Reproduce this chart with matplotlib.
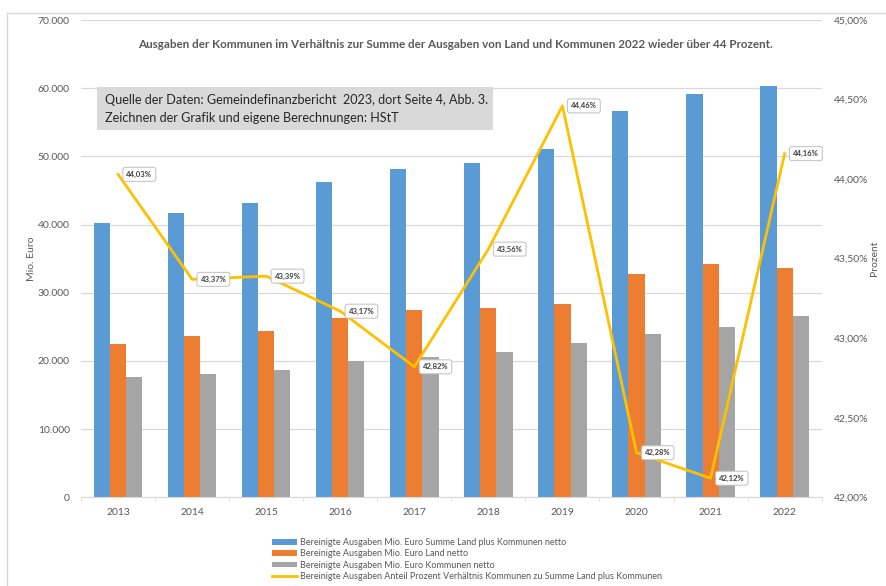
import matplotlib
matplotlib.use("Agg")
import matplotlib.pyplot as plt
from matplotlib.lines import Line2D
from matplotlib.patches import Rectangle
from matplotlib.ticker import FuncFormatter, FixedLocator
import numpy as np

# ── Data (Mio. Euro / Prozent) ────────────────────────────────────────────────
years = ["2013", "2014", "2015", "2016", "2017", "2018", "2019", "2020", "2021", "2022"]
summe = [40180, 41730, 43200, 46280, 48090, 49060, 51030, 56690, 59180, 60310]
land = [22480, 23650, 24430, 26290, 27510, 27710, 28390, 32740, 34210, 33670]
kommunen = [17680, 18120, 18710, 19990, 20620, 21350, 22630, 23940, 24930, 26630]
anteil = [44.03, 43.37, 43.39, 43.17, 42.82, 43.56, 44.46, 42.28, 42.12, 44.16]

labels = [
    "Bereinigte Ausgaben Mio. Euro Summe Land plus Kommunen netto",
    "Bereinigte Ausgaben Mio. Euro Land netto",
    "Bereinigte Ausgaben Mio. Euro Kommunen netto",
    "Bereinigte Ausgaben Anteil Prozent Verhältnis Kommunen zu Summe Land plus Kommunen",
]
title = ("Ausgaben der Kommunen im Verhältnis zur Summe der Ausgaben von Land "
         "und Kommunen 2022 wieder über 44 Prozent.")
source = ("Quelle der Daten: Gemeindefinanzbericht  2023, dort Seite 4, Abb. 3.\n"
          "Zeichnen der Grafik und eigene Berechnungen: HStT")

# ── Colours ───────────────────────────────────────────────────────────────────
C_BLUE = "#5b9bd5"
C_ORANGE = "#ed7d31"
C_GREY = "#a5a5a5"
C_YELLOW = "#ffc000"
C_TEXT = "#595959"
C_GRID = "#d9d9d9"

plt.rcParams["font.family"] = ["Lato", "DejaVu Sans"]

fig = plt.figure(figsize=(8.86, 5.86), dpi=100)
ax = fig.add_axes([81 / 886, 1 - 497.3 / 586, 740.7 / 886, 477.3 / 586])
ax2 = ax.twinx()

x = np.arange(len(years))
w = 0.218
b1 = ax.bar(x - w, summe, w, color=C_BLUE, label=labels[0], zorder=2)
b2 = ax.bar(x, land, w, color=C_ORANGE, label=labels[1], zorder=2)
b3 = ax.bar(x + w, kommunen, w, color=C_GREY, label=labels[2], zorder=2)

ax.set_xlim(-0.5, len(years) - 0.5)
ax.set_ylim(0, 70000)
ax.set_yticks(np.arange(0, 70001, 10000))
ax.yaxis.set_major_formatter(FuncFormatter(lambda v, p: f"{int(v):,}".replace(",", ".")))
ax.grid(axis="y", color=C_GRID, lw=0.9, zorder=0)
ax.set_axisbelow(True)
ax.set_xticks(x)
ax.set_xticklabels(years)
ax.xaxis.set_minor_locator(FixedLocator(np.arange(-0.5, len(years), 1.0)))
ax.tick_params(axis="x", which="major", length=0, pad=8, labelsize=7.5, labelcolor=C_TEXT)
ax.tick_params(axis="x", which="minor", length=3, color=C_GRID)
ax.tick_params(axis="y", length=0, pad=8, labelsize=7.5, labelcolor=C_TEXT)
for side in ["left", "right", "top"]:
    ax.spines[side].set_visible(False)
    ax2.spines[side].set_visible(False)
ax.spines["bottom"].set_color(C_GRID)
ax2.spines["bottom"].set_visible(False)
ax.set_ylabel("Mio. Euro", fontsize=7.5, color=C_TEXT, labelpad=1)

# percentage line
ln, = ax2.plot(x, anteil, color=C_YELLOW, lw=2.0, label=labels[3], zorder=3)
ax2.set_ylim(42, 45)
ax2.set_yticks(np.arange(42, 45.01, 0.5))
ax2.yaxis.set_major_formatter(FuncFormatter(lambda v, p: f"{v:.2f}%".replace(".", ",")))
ax2.tick_params(axis="y", length=0, pad=9, labelsize=7.5, labelcolor=C_TEXT)
ax2.set_ylabel("Prozent", fontsize=7.5, color=C_TEXT, labelpad=1)

for xi, v in zip(x, anteil):
    ax2.annotate(f"{v:.2f}%".replace(".", ","), (xi, v), xytext=(6, 0),
                 textcoords="offset points", ha="left", va="center",
                 fontsize=5.5, fontweight="bold", color="#404040", zorder=5,
                 bbox=dict(boxstyle="round,pad=0.45,rounding_size=0.3",
                           fc="white", ec="#bfbfbf", lw=0.7))

# title and source box inside the plot area
ax2.text(0.505, 0.948, title, transform=ax.transAxes, ha="center", va="center",
         fontsize=8.4, fontweight="bold", color=C_TEXT, zorder=6)
ax2.add_patch(Rectangle((0.0216, 0.7695), 0.5344, 0.0901, transform=ax.transAxes,
                        fc="#d9d9d9", ec="none", zorder=6))
ax2.text(0.032, 0.8135, source, transform=ax.transAxes, ha="left", va="center",
         fontsize=9.1, color="#262626", linespacing=1.55, zorder=7)

# legend
fig.legend(handles=[b1, b2, b3, ln], labels=labels, loc="upper left",
           bbox_to_anchor=(272 / 886, 1 - 538 / 586), frameon=False,
           fontsize=6.5, labelcolor=C_TEXT, handlelength=2.8, handleheight=0.55,
           handletextpad=0.25, labelspacing=0.25, borderpad=0, borderaxespad=0)

# outer chart frame (top and left edges visible)
fig.add_artist(Line2D([6.5 / 886, 6.5 / 886], [0, 1 - 13 / 586], color=C_GRID, lw=1))
fig.add_artist(Line2D([6.5 / 886, 1], [1 - 13 / 586, 1 - 13 / 586], color=C_GRID, lw=1))

fig.savefig("out.png", dpi=100)
